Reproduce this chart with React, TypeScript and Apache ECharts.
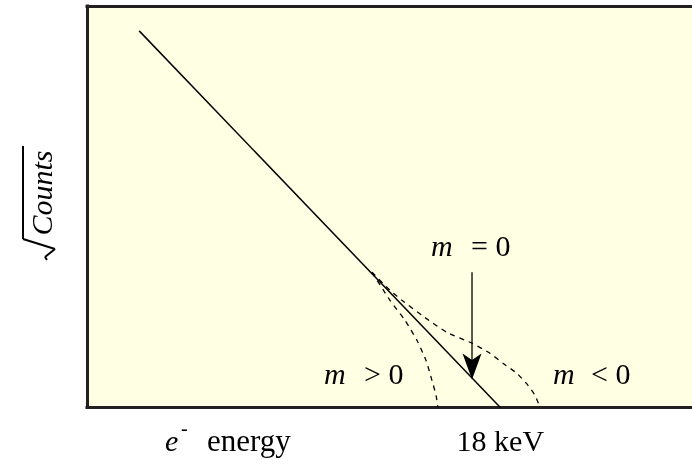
import { useEffect, useRef } from "react";
import * as echarts from "echarts";

// Straight Kurie line for a massless neutrino (energy in keV, sqrt(counts) in arbitrary units)
const massZeroEnergy = [14.505, 18.0];
const massZeroRoot = [0.938, 0];

// Kurie curve bending away before the endpoint (m > 0)
const massPosEnergy = [16.758, 16.932, 17.078, 17.194, 17.281, 17.339, 17.378, 17.397];
const massPosRoot = [0.337, 0.267, 0.217, 0.167, 0.117, 0.067, 0.03, 0];

// Kurie curve running past the endpoint (m < 0)
const massNegEnergy = [16.758, 16.932, 17.048, 17.271, 17.484, 17.726, 17.9, 18.026, 18.161, 18.268, 18.336, 18.384];
const massNegRoot = [0.337, 0.292, 0.267, 0.224, 0.187, 0.16, 0.135, 0.11, 0.085, 0.055, 0.03, 0];

// Axis range, tick and its label
const energyRange = [14, 19.855];
const endpointTicks = [18];
const endpointLabels = ["18 keV"];

// Arrow pointing at the m = 0 line (tail, tip)
const arrowEnergy = [17.726];
const arrowRoot = [0.337, 0.07];

const FONT = "Liberation Serif, Times New Roman, DejaVu Serif, serif";
const INK = "#231F20";

const zip = (xs: number[], ys: number[]) => xs.map((x, i) => [x, ys[i]]);

const frameLine = { show: true, onZero: false, lineStyle: { color: INK, width: 3, cap: "square" } };

export default function App() {
  const ref = useRef<HTMLDivElement>(null);

  useEffect(() => {
    if (!ref.current) return;
    const chart = echarts.init(ref.current, undefined, { renderer: "svg" });

    const label = (x: number, y: number, text: string, italic = false, size = 30) => {
      const style: Record<string, unknown> = {
        text,
        fontFamily: FONT,
        fontSize: size,
        fill: "#000",
        verticalAlign: "middle",
      };
      if (italic) style.fontStyle = "italic";
      return { type: "text", x, y, style };
    };

    const texts = [
      // curve labels
      label(431, 245, "m", true),
      label(471, 245, "= 0"),
      label(324, 373, "m", true),
      label(364, 373, "> 0"),
      label(553, 373, "m", true),
      label(591, 373, "< 0"),
      // x-axis caption
      label(165, 440, "e", true),
      label(181, 428, "-", false, 20),
      label(207, 440, "energy", false, 31),
      // y-axis caption: sqrt(Counts), read bottom to top
      {
        type: "text",
        x: 41,
        y: 193,
        rotation: Math.PI / 2,
        style: {
          text: "Counts",
          fontFamily: FONT,
          fontSize: 30,
          fontStyle: "italic",
          fill: "#000",
          align: "center",
          verticalAlign: "middle",
        },
      },
      // radical sign around the caption
      { type: "line", shape: { x1: 23, y1: 146, x2: 23, y2: 239 }, style: { stroke: "#000", lineWidth: 2 } },
      { type: "line", shape: { x1: 23, y1: 239, x2: 55, y2: 249 }, style: { stroke: "#000", lineWidth: 2 } },
      { type: "line", shape: { x1: 55, y1: 249, x2: 45, y2: 257 }, style: { stroke: "#000", lineWidth: 2 } },
      { type: "line", shape: { x1: 45, y1: 257, x2: 47, y2: 260 }, style: { stroke: "#000", lineWidth: 2 } },
    ];

    chart.setOption({
      animation: false,
      grid: {
        show: true,
        left: 87,
        right: 0,
        top: 6,
        bottom: 59.5,
        backgroundColor: "#FFFFE3",
        borderWidth: 0,
      },
      xAxis: [
        {
          type: "value",
          min: energyRange[0],
          max: energyRange[1],
          axisLine: frameLine,
          axisTick: { show: false },
          splitLine: { show: false },
          axisLabel: {
            customValues: endpointTicks,
            formatter: (v: number) => endpointLabels[endpointTicks.indexOf(v)] ?? "",
            margin: 18,
            fontFamily: FONT,
            fontSize: 30,
            color: "#000",
          },
        },
        {
          type: "value",
          position: "top",
          min: energyRange[0],
          max: energyRange[1],
          axisLine: frameLine,
          axisTick: { show: false },
          splitLine: { show: false },
          axisLabel: { show: false },
        },
      ],
      yAxis: {
        type: "value",
        min: 0,
        max: 1,
        axisLine: frameLine,
        axisTick: { show: false },
        splitLine: { show: false },
        axisLabel: { show: false },
      },
      series: [
        {
          name: "m = 0",
          type: "line",
          data: zip(massZeroEnergy, massZeroRoot),
          symbol: "none",
          lineStyle: { color: "#000", width: 1.5 },
        },
        {
          name: "m > 0",
          type: "line",
          data: zip(massPosEnergy, massPosRoot),
          smooth: 0.2,
          symbol: "none",
          lineStyle: { color: "#000", width: 1.3, type: [5, 5] },
        },
        {
          name: "m < 0",
          type: "line",
          data: zip(massNegEnergy, massNegRoot),
          smooth: 0.2,
          symbol: "none",
          lineStyle: { color: "#000", width: 1.3, type: [5, 5] },
        },
      ],
      graphic: texts,
    });

    // Arrow placed through the chart's own coordinate conversion
    const tail = chart.convertToPixel({ gridIndex: 0 }, [arrowEnergy[0], arrowRoot[0]]) as number[];
    const tip = chart.convertToPixel({ gridIndex: 0 }, [arrowEnergy[0], arrowRoot[1]]) as number[];
    const head = 26;
    const half = 9.5;
    chart.setOption({
      graphic: [
        ...texts,
        {
          type: "line",
          shape: { x1: tail[0], y1: tail[1], x2: tip[0], y2: tip[1] - head * 0.7 },
          style: { stroke: "#000", lineWidth: 1.3 },
        },
        {
          type: "polygon",
          shape: {
            points: [
              [tip[0], tip[1]],
              [tip[0] + half, tip[1] - head],
              [tip[0], tip[1] - head * 0.75],
              [tip[0] - half, tip[1] - head],
            ],
          },
          style: { fill: "#000" },
        },
      ],
    });

    return () => chart.dispose();
  }, []);

  return (
    <div
      ref={ref}
      style={{ position: "fixed", left: 0, top: 0, width: 692, height: 467 }}
    />
  );
}
